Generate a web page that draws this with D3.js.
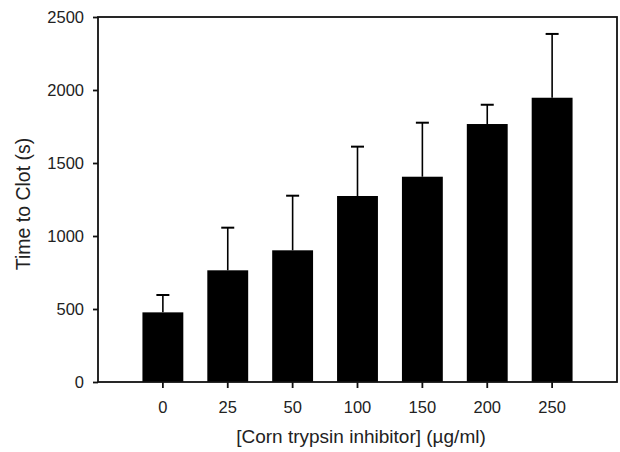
<!DOCTYPE html>
<html>
<head>
<meta charset="utf-8">
<script src="https://cdn.jsdelivr.net/npm/d3@7"></script>
<style>
  body { margin: 0; background: #fff; }
  text { font-family: "Liberation Sans", Arial, sans-serif; fill: #222; }
</style>
</head>
<body>
<div id="chart"></div>
<script>
const concentrations = ["0", "25", "50", "100", "150", "200", "250"];
const clotTimes = [477, 765, 902, 1274, 1406, 1767, 1947];
const clotErrors = [119, 292, 374, 338, 370, 132, 437];
const yTicks = [0, 500, 1000, 1500, 2000, 2500];

const width = 620,
    height = 452;
const margin = {top: 17, right: 3, bottom: 70, left: 98};

let svg = d3.select("#chart")
    .append("svg")
    .attr("width", width)
    .attr("height", height);

let x = d3.scaleBand()
    .domain(concentrations)
    .range([margin.left, width - margin.right])
    .paddingInner(0.37)
    .paddingOuter(0.685);

let y = d3.scaleLinear()
    .domain([0, 2500])
    .range([height - margin.bottom, margin.top]);

let rows = concentrations.map(function (c, i) {
    return {key: c, value: clotTimes[i], err: clotErrors[i]};
});

// error bars (up only), drawn first so the bar covers the stem
let err = svg.append("g")
    .selectAll("g")
    .data(rows)
    .enter()
    .append("g");

err.append("line")
    .attr("x1", d => x(d.key) + x.bandwidth() / 2)
    .attr("x2", d => x(d.key) + x.bandwidth() / 2)
    .attr("y1", d => y(d.value))
    .attr("y2", d => y(d.value + d.err))
    .attr("stroke", "#000")
    .attr("stroke-width", 1.6);

err.append("line")
    .attr("x1", d => x(d.key) + x.bandwidth() / 2 - 6.5)
    .attr("x2", d => x(d.key) + x.bandwidth() / 2 + 6.5)
    .attr("y1", d => y(d.value + d.err))
    .attr("y2", d => y(d.value + d.err))
    .attr("stroke", "#000")
    .attr("stroke-width", 2);

svg.append("g")
    .selectAll("rect")
    .data(rows)
    .enter()
    .append("rect")
    .attr("x", d => x(d.key))
    .attr("width", x.bandwidth())
    .attr("y", d => y(d.value))
    .attr("height", d => y(0) - y(d.value))
    .attr("fill", "#000");

// frame
svg.append("rect")
    .attr("x", margin.left)
    .attr("y", margin.top)
    .attr("width", width - margin.right - margin.left)
    .attr("height", height - margin.bottom - margin.top)
    .attr("fill", "none")
    .attr("stroke", "#111")
    .attr("stroke-width", 1.8);

let yAxis = svg.append("g")
    .attr("transform", "translate(" + margin.left + ",0)")
    .call(d3.axisLeft(y).tickValues(yTicks).tickFormat(d3.format("d"))
        .tickSize(5).tickPadding(9).tickSizeOuter(0));
yAxis.select(".domain").remove();
yAxis.selectAll("line").attr("stroke", "#111").attr("stroke-width", 1.8);
yAxis.selectAll("text").style("font-size", "16.5px").style("fill", "#222");

let xAxis = svg.append("g")
    .attr("transform", "translate(0," + (height - margin.bottom) + ")")
    .call(d3.axisBottom(x).tickSize(6).tickPadding(13).tickSizeOuter(0));
xAxis.select(".domain").remove();
xAxis.selectAll("line").attr("stroke", "#111").attr("stroke-width", 1.8);
xAxis.selectAll("text").style("font-size", "16.5px").style("fill", "#222");

svg.append("text")
    .attr("x", 361)
    .attr("y", 443)
    .attr("text-anchor", "middle")
    .style("font-size", "19px")
    .text("[Corn trypsin inhibitor] (\u00b5g/ml)");

svg.append("text")
    .attr("transform", "translate(30,204) rotate(-90)")
    .attr("text-anchor", "middle")
    .style("font-size", "19.5px")
    .text("Time to Clot (s)");
</script>
</body>
</html>
